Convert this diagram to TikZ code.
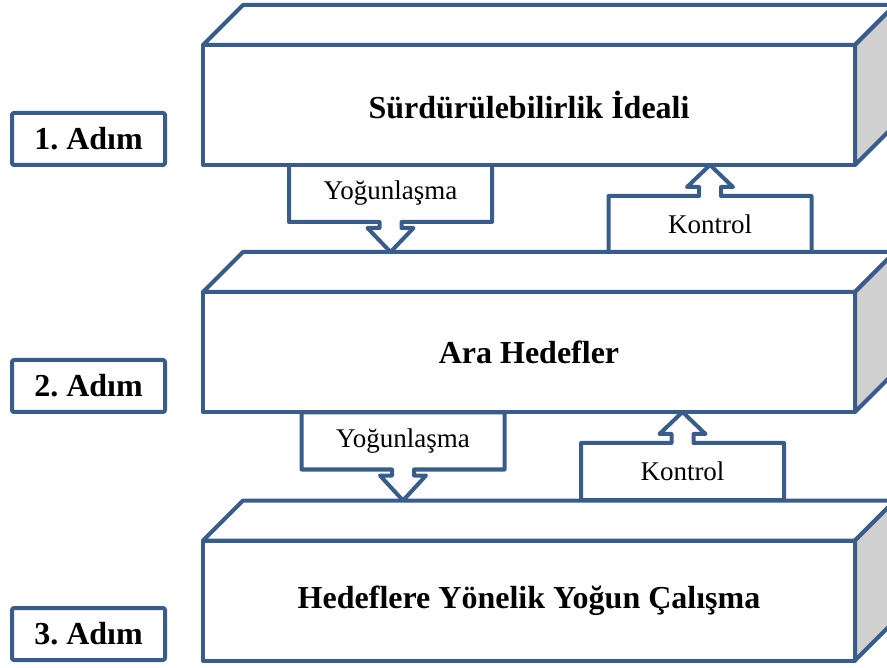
\documentclass[tikz,border=0pt]{standalone}
\usepackage{fontspec}
\setmainfont{Liberation Serif}
\usetikzlibrary{calc,backgrounds}
\frenchspacing

\definecolor{cizgimavi}{RGB}{56,93,138}
\definecolor{yangri}{RGB}{208,208,208}

% ust ve yan yuz (derinlik 40)
\newcommand{\kutuyuz}[1]{%
  \draw[kenar, fill=white] (#1.north west) -- ++(40,-40) -- ++(652,0) -- (#1.north east) -- cycle;
  \draw[kenar, fill=yangri] (#1.north east) -- ++(40,-40) -- ++(0,120) -- (#1.south east) -- cycle;}

% asagi oklu kutu: #1 dugum, #2 ok ucu
\newcommand{\asagiok}[2]{%
  \draw[kenar, fill=white] (#1.north west) -- (#1.south west) -- ($(#1.south)+(-11,0)$) -- ++(0,6) -- ++(-12,0)
    -- (#2) -- ($(#1.south)+(23,6)$) -- ++(-12,0) -- ($(#1.south)+(11,0)$) -- (#1.south east) -- (#1.north east) -- cycle;}

% yukari oklu kutu
\newcommand{\yukariok}[2]{%
  \draw[kenar, fill=white] (#1.south west) -- (#1.north west) -- ($(#1.north)+(-11,0)$) -- ++(0,-9) -- ++(-12,0)
    -- (#2) -- ($(#1.north)+(23,-9)$) -- ++(-12,0) -- ($(#1.north)+(11,0)$) -- (#1.north east) -- (#1.south east) -- cycle;}

\begin{document}
\begin{tikzpicture}[x=1pt,y=-1pt]

\tikzset{
    kenar/.style={draw=cizgimavi, line width=4pt, line join=round},
    anakutu/.style={
        kenar, fill=white, outer sep=0pt,
        minimum width=652pt, minimum height=120pt,
        font=\fontsize{32}{38}\selectfont\bfseries
    },
    adimkutu/.style={
        kenar, fill=white, outer sep=0pt, rounded corners=2pt,
        minimum width=153pt, minimum height=52pt,
        font=\fontsize{32}{38}\selectfont\bfseries
    },
    okkutu/.style={
        outer sep=0pt, inner sep=0pt,
        minimum width=203pt, minimum height=57pt,
        font=\fontsize{27}{30}\selectfont
    }
}

\useasboundingbox (0,0) rectangle (887,668);
\clip (0,0) rectangle (887,668);

% ana kutular
\node[anakutu] (ideal) at (529,105) {Sürdürülebilirlik İdeali};
\kutuyuz{ideal}
\node[anakutu] (ara) at (529,352) {Ara Hedefler};
\kutuyuz{ara}
\node[anakutu] (hedef) at (529,600.5) {Hedeflere Yönelik Yoğun Çalışma};
\kutuyuz{hedef}

\coordinate (aratop) at ($(ara.north)+(40,-40)$);
\coordinate (hedeftop) at ($(hedef.north)+(40,-40)$);

% adimlar
\node[adimkutu] (adim1) at (88.5,139) {1. Adım};
\node[adimkutu] (adim2) at (88.5,386) {2. Adım};
\node[adimkutu] (adim3) at (88.5,634) {3. Adım};

% oklar
\node[okkutu] (yog1) at (390.5,193.5) {Yoğunlaşma};
\node[okkutu] (kon1) at (710,224.5) {Kontrol};
\node[okkutu] (yog2) at (403,441) {Yoğunlaşma};
\node[okkutu] (kon2) at (682.5,471.5) {Kontrol};

\begin{scope}[on background layer]
\asagiok{yog1}{yog1.south |- aratop}
\yukariok{kon1}{kon1.north |- ideal.south}
\asagiok{yog2}{yog2.south |- hedeftop}
\yukariok{kon2}{kon2.north |- ara.south}
\end{scope}

\end{tikzpicture}
\end{document}
